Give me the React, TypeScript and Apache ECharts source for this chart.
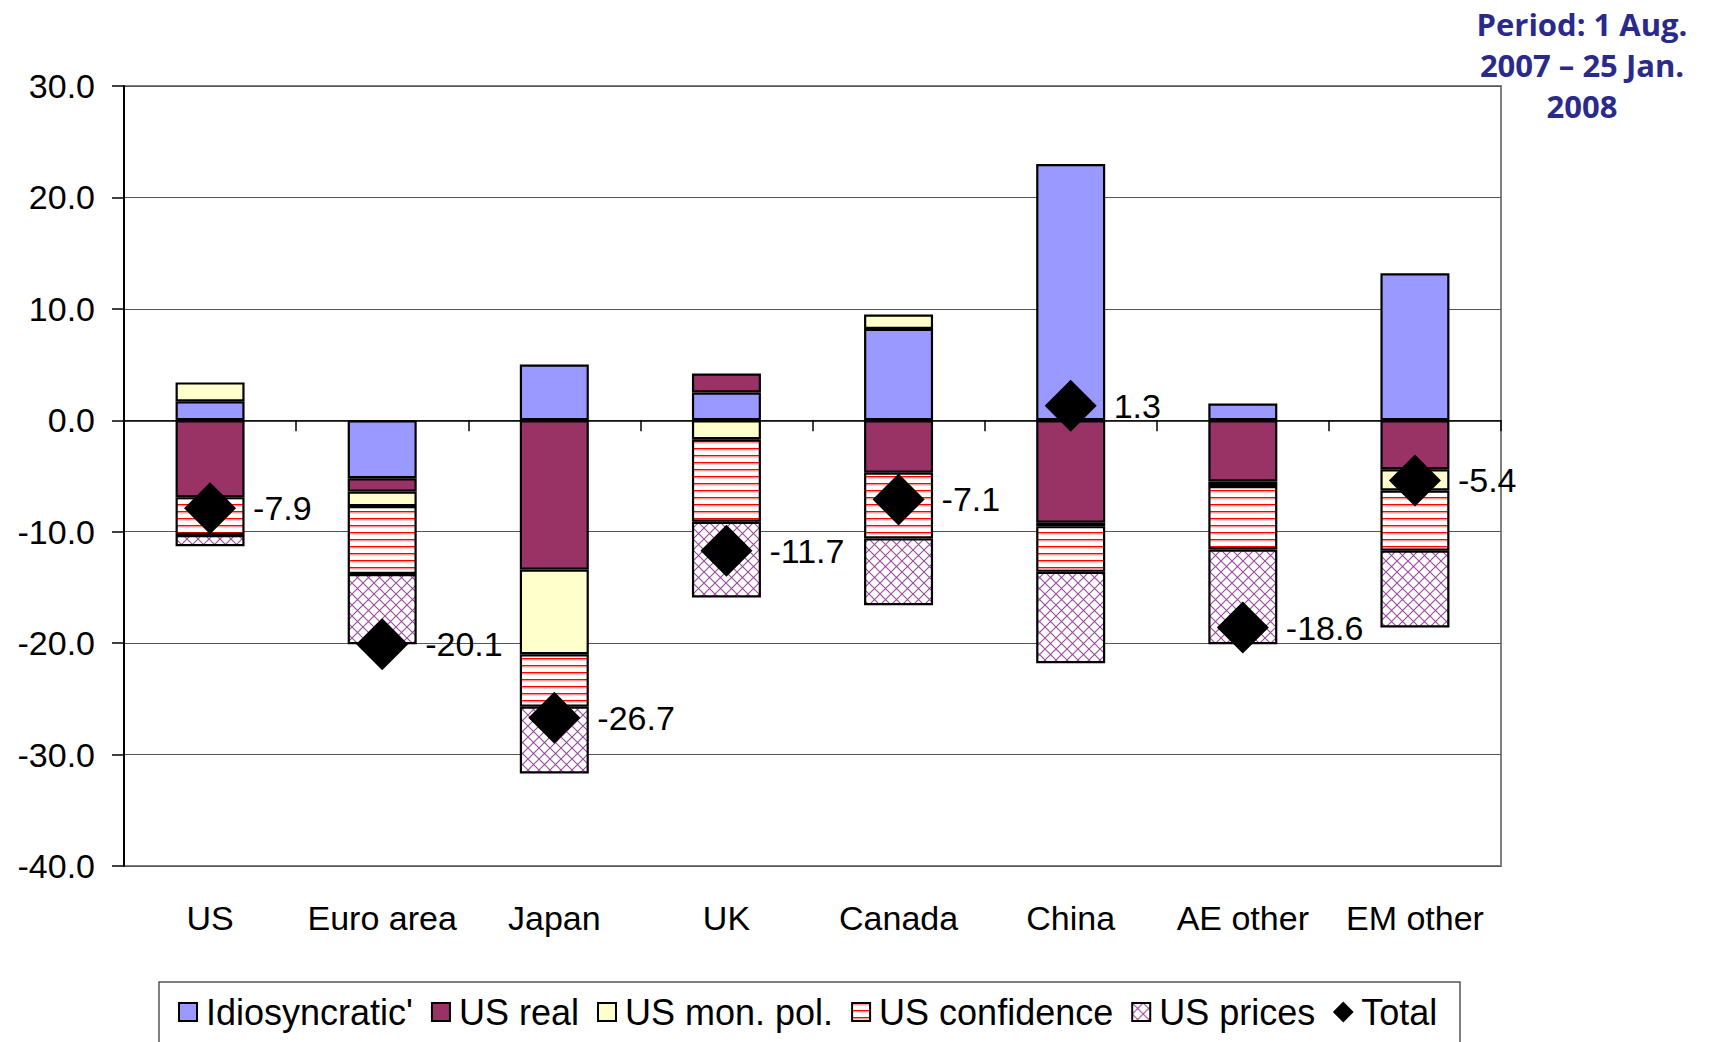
import React, { useEffect, useRef } from "react";
import * as echarts from "echarts";

const categories = ["US", "Euro area", "Japan", "UK", "Canada", "China", "AE other", "EM other"];
const idiosyncratic = [1.7, -5.2, 5.0, 2.5, 8.2, 23.0, 1.5, 13.2];
const usReal = [-6.9, -1.2, -13.4, 1.7, -4.7, -9.2, -5.5, -4.4];
const usMonPol = [1.7, -1.3, -7.6, -1.7, 1.3, -0.3, -0.4, -1.9];
const usConfidence = [-3.4, -6.1, -4.7, -7.4, -5.9, -4.1, -5.7, -5.4];
const usPrices = [-1.0, -6.3, -6.0, -6.8, -6.0, -8.2, -8.5, -6.9];
const total = [-7.9, -20.1, -26.7, -11.7, -7.1, 1.3, -18.6, -5.4];

const yTicks = { min: -40, max: 30, interval: 10 };
const titleLines = ["Period: 1 Aug.", "2007 \u2013 25 Jan.", "2008"];
const seriesNames = ["Idiosyncratic'", "US real", "US mon. pol.", "US confidence", "US prices", "Total"];

const FONT = "'Liberation Sans', Arial, sans-serif";

function makeStripes() {
  const c = document.createElement("canvas");
  c.width = 8;
  c.height = 7;
  const ctx = c.getContext("2d")!;
  ctx.fillStyle = "#ffffff";
  ctx.fillRect(0, 0, 8, 7);
  ctx.fillStyle = "#ff0000";
  ctx.fillRect(0, 0, 8, 1.5);
  ctx.fillStyle = "#ffaaaa";
  ctx.fillRect(0, 1.5, 8, 1);
  return c;
}

function makeHatch() {
  const s = 11;
  const c = document.createElement("canvas");
  c.width = s;
  c.height = s;
  const ctx = c.getContext("2d")!;
  ctx.fillStyle = "#ffffff";
  ctx.fillRect(0, 0, s, s);
  ctx.strokeStyle = "#9a4a9e";
  ctx.lineWidth = 1.1;
  ctx.beginPath();
  ctx.moveTo(-1, -1);
  ctx.lineTo(s + 1, s + 1);
  ctx.moveTo(s + 1, -1);
  ctx.lineTo(-1, s + 1);
  ctx.stroke();
  return c;
}

export default function App() {
  const ref = useRef<HTMLDivElement>(null);
  useEffect(() => {
    if (!ref.current) return;
    const chart = echarts.init(ref.current, undefined, { renderer: "svg" });
    const stripes = { image: makeStripes(), repeat: "repeat" };
    const hatch = { image: makeHatch(), repeat: "repeat" };
    const barBase = {
      type: "bar",
      stack: "s",
      barWidth: 69,
      itemStyle: { borderColor: "#000", borderWidth: 2.2 },
      emphasis: { disabled: true },
    };
    const colors: any[] = ["#9999ff", "#993366", "#ffffcc", stripes, hatch];
    const dataArrays = [idiosyncratic, usReal, usMonPol, usConfidence, usPrices];
    const barSeries = dataArrays.map((d, i) => ({
      ...barBase,
      name: seriesNames[i],
      data: d,
      itemStyle: { ...barBase.itemStyle, color: colors[i] },
    }));

    const option: any = {
      animation: false,
      grid: {
        left: 124,
        top: 86,
        width: 1377,
        height: 780,
        show: true,
        borderColor: "#808080",
        borderWidth: 2,
        containLabel: false,
        outerBoundsMode: "none",
      },
      xAxis: [
        {
          type: "category",
          data: categories,
          axisLine: { onZero: true, lineStyle: { color: "#000", width: 1.5 } },
          axisTick: { show: true, inside: false, length: 11, alignWithLabel: false, interval: 0, lineStyle: { color: "#000", width: 1.5 } },
          axisLabel: { show: false },
          splitLine: { show: false },
        },
        {
          type: "category",
          data: categories,
          position: "bottom",
          axisLine: { show: false, onZero: false },
          axisTick: { show: false },
          axisLabel: { margin: 35, interval: 0, hideOverlap: false, fontSize: 34, color: "#000", fontFamily: FONT },
          splitLine: { show: false },
        },
      ],
      yAxis: {
        type: "value",
        min: yTicks.min,
        max: yTicks.max,
        interval: yTicks.interval,
        axisLine: { show: true, onZero: false, lineStyle: { color: "#000", width: 2 } },
        axisTick: { show: true, inside: false, length: 12, lineStyle: { color: "#000", width: 1.5 } },
        axisLabel: {
          margin: 29,
          fontSize: 34,
          color: "#000",
          fontFamily: FONT,
          formatter: (v: number) => v.toFixed(1),
        },
        splitLine: { show: true, lineStyle: { color: "#555", width: 1 } },
      },
      legend: {
        left: 173,
        top: 989,
        itemWidth: 18,
        itemHeight: 18,
        itemGap: 18,
        itemStyle: { borderColor: "#000", borderWidth: 2 },
        textStyle: { fontSize: 36, color: "#000", fontFamily: FONT, padding: [0, 0, 0, 4] },
        data: seriesNames.map((n, i) => ({ name: n, icon: i === 5 ? "diamond" : "rect" })),
        selectedMode: false,
      },
      graphic: [
        ...titleLines.map((t, i) => ({
          type: "text",
          x: 1582,
          y: 24 + i * 41,
          style: {
            text: t,
            fontSize: 31,
            fontWeight: "bold",
            fontFamily: "'Open Sans', Lato, sans-serif",
            fill: "#2a2a8c",
            align: "center",
            verticalAlign: "middle",
          },
        })),
        {
          type: "rect",
          shape: { x: 159, y: 982, width: 1301, height: 80 },
          style: { fill: "none", stroke: "#555", lineWidth: 1.5 },
          silent: true,
        },
      ],
      series: [
        ...barSeries,
        {
          type: "scatter",
          name: "Total",
          data: total,
          symbol: "diamond",
          symbolSize: 52,
          z: 5,
          itemStyle: { color: "#000", opacity: 1, borderWidth: 0 },
          emphasis: { disabled: true },
          label: {
            show: true,
            position: "right",
            distance: 17,
            fontSize: 34,
            color: "#000",
            fontFamily: FONT,
            formatter: (p: any) => Number(p.value).toFixed(1),
          },
        },
      ],
    };
    chart.setOption(option);
    return () => chart.dispose();
  }, []);
  return (
    <div
      ref={ref}
      style={{ position: "fixed", left: 0, top: 0, width: 1718, height: 1042, background: "#fff" }}
    />
  );
}
